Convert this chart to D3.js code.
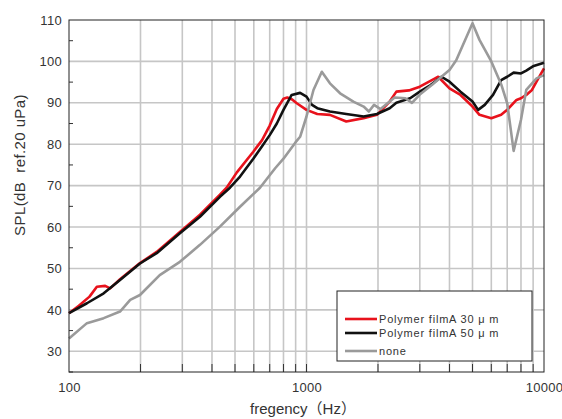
<!DOCTYPE html>
<html>
<head>
<meta charset="utf-8">
<script src="https://cdn.jsdelivr.net/npm/d3@7/dist/d3.min.js"></script>
<style>
	body { margin: 0; background: #fff; }
	svg { display: block; }
	text { font-family: "Liberation Sans", Arial, "Noto Sans CJK JP", sans-serif; fill: #333; }
</style>
</head>
<body>
<svg id="chart" width="562" height="419"></svg>
<script>
// tick values
var labelFreqs = [100, 1000, 10000];
var gridFreqs = [200, 300, 400, 500, 600, 700, 800, 900, 1000, 2000, 3000, 4000, 5000, 6000, 7000, 8000, 9000];
var splTicks = [30, 40, 50, 60, 70, 80, 90, 100, 110];
var splMinor = [25, 35, 45, 55, 65, 75, 85, 95, 105];

// Polymer filmA 30um (red)
var freqRed = [100, 110, 122, 131, 142, 149, 164, 199, 234, 293, 356, 432, 461, 509, 597, 650, 700, 750, 800, 830, 870, 910, 1000, 1110, 1255, 1470, 1740, 1980, 2240, 2390, 2700, 3000, 3480, 3585, 4000, 4450, 5000, 5350, 6000, 6600, 7000, 7660, 8000, 8420, 8900, 9300, 10000];
var splRed = [39.2, 41, 43.2, 45.6, 45.8, 45.2, 47.4, 51.3, 54, 58.8, 63, 67.8, 69.5, 73.2, 78.2, 81, 84.5, 88.5, 91, 91.3, 90.8, 89.9, 88.3, 87.3, 87.1, 85.5, 86.3, 87.1, 90.3, 92.7, 93, 93.9, 95.9, 96.3, 93.5, 91.9, 89.1, 87.1, 86.3, 87.1, 88.3, 90.7, 91.1, 91.9, 93.1, 95.1, 98.3];

// Polymer filmA 50um (black)
var freqBlack = [100, 119, 140, 164, 199, 234, 293, 356, 432, 476, 525, 597, 650, 700, 750, 800, 866, 940, 1000, 1055, 1110, 1255, 1470, 1740, 1980, 2240, 2390, 2730, 3000, 3330, 3700, 4000, 4450, 5000, 5280, 5630, 6100, 6600, 7000, 7450, 8000, 8420, 9050, 10000];
var splBlack = [39.2, 41.6, 44, 47.2, 51.2, 53.7, 58.5, 62.5, 67.3, 69.5, 72.2, 76.5, 79.5, 82.2, 85, 88.3, 91.9, 92.4, 91.5, 89.5, 88.7, 87.9, 87.3, 86.7, 87.3, 88.7, 90, 91.1, 92.7, 94.3, 96.3, 95.1, 92.7, 90.3, 88.3, 89.5, 91.9, 95.5, 96.3, 97.3, 97.1, 97.8, 98.9, 99.7];

// none (gray)
var freqGray = [100, 119, 140, 164, 181, 199, 241, 293, 356, 432, 525, 637, 700, 738, 800, 900, 940, 1000, 1070, 1160, 1255, 1385, 1575, 1740, 1830, 1925, 2050, 2350, 2610, 2780, 3000, 3400, 3700, 4000, 4270, 5000, 5350, 6000, 6600, 7000, 7450, 8000, 8420, 9300, 10000];
var splGray = [33.1, 36.8, 38, 39.6, 42.4, 43.6, 48.4, 51.6, 55.7, 60.1, 64.9, 69.5, 72.5, 74.2, 76.5, 80.5, 81.8, 86.7, 93.1, 97.5, 94.7, 92.3, 90.3, 89.1, 87.9, 89.5, 88.5, 91.3, 91.1, 90, 92, 94.5, 96.3, 97.9, 100.3, 109.2, 105.2, 100, 94.5, 89.9, 78.4, 85.9, 93.1, 95.9, 96.7];

var seriesNames = ["Polymer filmA 30 \u03bc m", "Polymer filmA 50 \u03bc m", "none"];
var seriesColors = ["#e8121c", "#111111", "#9a9a9a"];

var MARGIN = {left: 69, top: 20, right: 18, bottom: 47};
var W = 562, H = 419;

var svg = d3.select("#chart");

var x = d3.scaleLog().domain([100, 10000]).range([MARGIN.left, W - MARGIN.right]);
var y = d3.scaleLinear().domain([25, 110]).range([H - MARGIN.bottom, MARGIN.top]);

// grid
svg.append("g")
	.selectAll("line.vgrid")
	.data(gridFreqs)
	.enter().append("line")
		.attr("x1", function(d) {return x(d);})
		.attr("x2", function(d) {return x(d);})
		.attr("y1", y(110))
		.attr("y2", y(25))
		.attr("stroke", "#c6c6c6")
		.attr("stroke-width", 1.6);

svg.append("g")
	.selectAll("line.hgrid")
	.data(splTicks.filter(function(d) {return d < 110;}))
	.enter().append("line")
		.attr("x1", x(100))
		.attr("x2", x(10000))
		.attr("y1", function(d) {return y(d);})
		.attr("y2", function(d) {return y(d);})
		.attr("stroke", "#c6c6c6")
		.attr("stroke-width", 1.6);

// inward ticks
svg.append("g")
	.selectAll("line")
	.data(gridFreqs)
	.enter().append("line")
		.attr("x1", function(d) {return x(d);})
		.attr("x2", function(d) {return x(d);})
		.attr("y1", y(25))
		.attr("y2", y(25) - 8)
		.attr("stroke", "#333")
		.attr("stroke-width", 1);

svg.append("g")
	.selectAll("line")
	.data(splMinor)
	.enter().append("line")
		.attr("x1", x(100))
		.attr("x2", x(100) + 4)
		.attr("y1", function(d) {return y(d);})
		.attr("y2", function(d) {return y(d);})
		.attr("stroke", "#333")
		.attr("stroke-width", 1);

// curves
var line = d3.line()
	.x(function(d) {return x(d[0]);})
	.y(function(d) {return y(d[1]);});

var curves = [
	d3.zip(freqRed, splRed),
	d3.zip(freqBlack, splBlack),
	d3.zip(freqGray, splGray)
];

svg.append("g")
	.selectAll("path")
	.data(curves)
	.enter().append("path")
		.attr("d", line)
		.attr("fill", "none")
		.attr("stroke", function(d, i) {return seriesColors[i];})
		.attr("stroke-width", 2.6)
		.attr("stroke-linejoin", "round");

// frame
svg.append("rect")
	.attr("x", x(100))
	.attr("y", y(110))
	.attr("width", x(10000) - x(100))
	.attr("height", y(25) - y(110))
	.attr("fill", "none")
	.attr("stroke", "#222")
	.attr("stroke-width", 1);

// axes labels
var xAxis = svg.append("g")
	.attr("transform", "translate(0," + y(25) + ")")
	.call(d3.axisBottom(x).tickValues(labelFreqs).tickFormat(d3.format("d")).tickSize(0).tickPadding(11));
var yAxis = svg.append("g")
	.attr("transform", "translate(" + x(100) + ",0)")
	.call(d3.axisLeft(y).tickValues(splTicks).tickSize(0).tickPadding(7));

[xAxis, yAxis].forEach(function(g) {
	g.select(".domain").remove();
	g.selectAll("text")
		.attr("fill", "#333")
		.attr("font-size", 13)
		.attr("font-family", "Liberation Sans, Arial, sans-serif")
		.style("letter-spacing", "0.3px");
});

svg.append("text")
	.attr("transform", "translate(25,165) rotate(-90)")
	.attr("text-anchor", "middle")
	.attr("font-size", 15)
	.style("letter-spacing", "0.4px")
	.style("white-space", "pre")
	.text("SPL(dB  ref.20 uPa)");

svg.append("text")
	.attr("x", 303)
	.attr("y", 414)
	.attr("text-anchor", "middle")
	.attr("font-size", 15)
	.text("fregency\uff08Hz\uff09");

// legend
var legend = svg.append("g");
legend.append("rect")
	.attr("x", 337)
	.attr("y", 291)
	.attr("width", 195)
	.attr("height", 70)
	.attr("fill", "#fff")
	.attr("stroke", "#222")
	.attr("stroke-width", 1);

var legendY = [319, 333, 351];
var items = legend.selectAll("g.item")
	.data(seriesNames)
	.enter().append("g")
		.attr("transform", function(d, i) {return "translate(345," + legendY[i] + ")";});
items.append("line")
	.attr("x1", 0)
	.attr("x2", 32)
	.attr("stroke", function(d, i) {return seriesColors[i];})
	.attr("stroke-width", 2.6);
items.append("text")
	.attr("x", 34)
	.attr("dy", "0.35em")
	.attr("font-size", 11)
	.style("letter-spacing", "0.8px")
	.text(function(d) {return d;});
</script>
</body>
</html>
